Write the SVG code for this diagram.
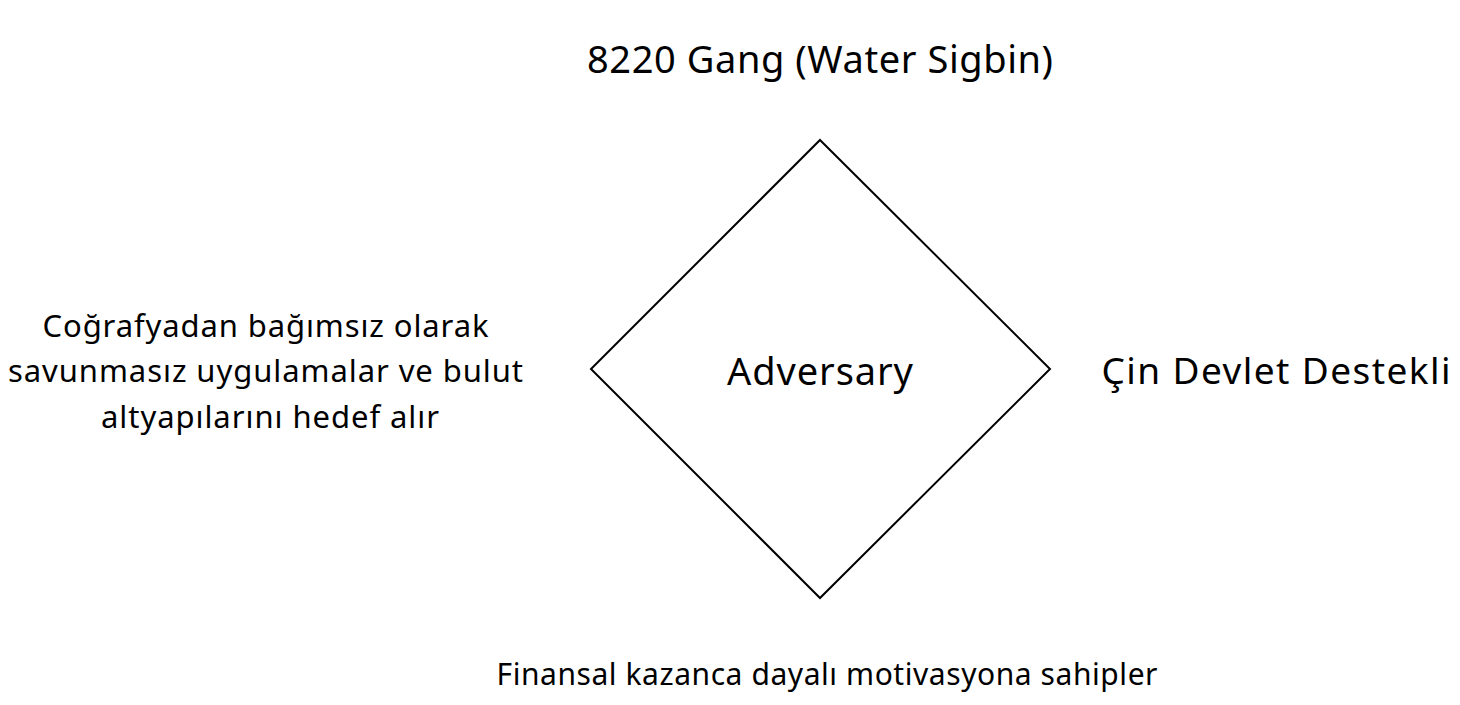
<svg xmlns="http://www.w3.org/2000/svg" width="1460" height="705" viewBox="0 0 1460 705">
<style>
.t{font-family:"Noto Sans","Open Sans","Liberation Sans",sans-serif;fill:#000;}
.shape{fill:#fff;stroke:#000;stroke-width:2;}
</style>
<rect width="1460" height="705" fill="#fff"/>
<g id="adversary">
<polygon class="shape" points="820,140 1050,369 820,598 591,369"/>
<text class="t" x="820" y="385" font-size="38" text-anchor="middle" textLength="186" lengthAdjust="spacing">Adversary</text>
</g>
<g id="name">
<text class="t" x="820" y="73" font-size="38" text-anchor="middle" textLength="466" lengthAdjust="spacing">8220 Gang (Water Sigbin)</text>
</g>
<g id="infrastructure">
<text class="t" font-size="31" text-anchor="middle">
<tspan x="270" y="337" textLength="446" lengthAdjust="spacing">Coğrafyadan bağımsız olarak</tspan>
<tspan x="270" y="382" textLength="515" lengthAdjust="spacing">savunmasız uygulamalar ve bulut</tspan>
<tspan x="270" y="428" textLength="338" lengthAdjust="spacing">altyapılarını hedef alır</tspan>
</text>
</g>
<g id="capability">
<text class="t" x="1276" y="384" font-size="37" text-anchor="middle" textLength="349" lengthAdjust="spacing">Çin Devlet Destekli</text>
</g>
<g id="victim">
<text class="t" x="827" y="685" font-size="30" text-anchor="middle" textLength="661" lengthAdjust="spacing">Finansal kazanca dayalı motivasyona sahipler</text>
</g>
<g id="connectors"></g>
</svg>
